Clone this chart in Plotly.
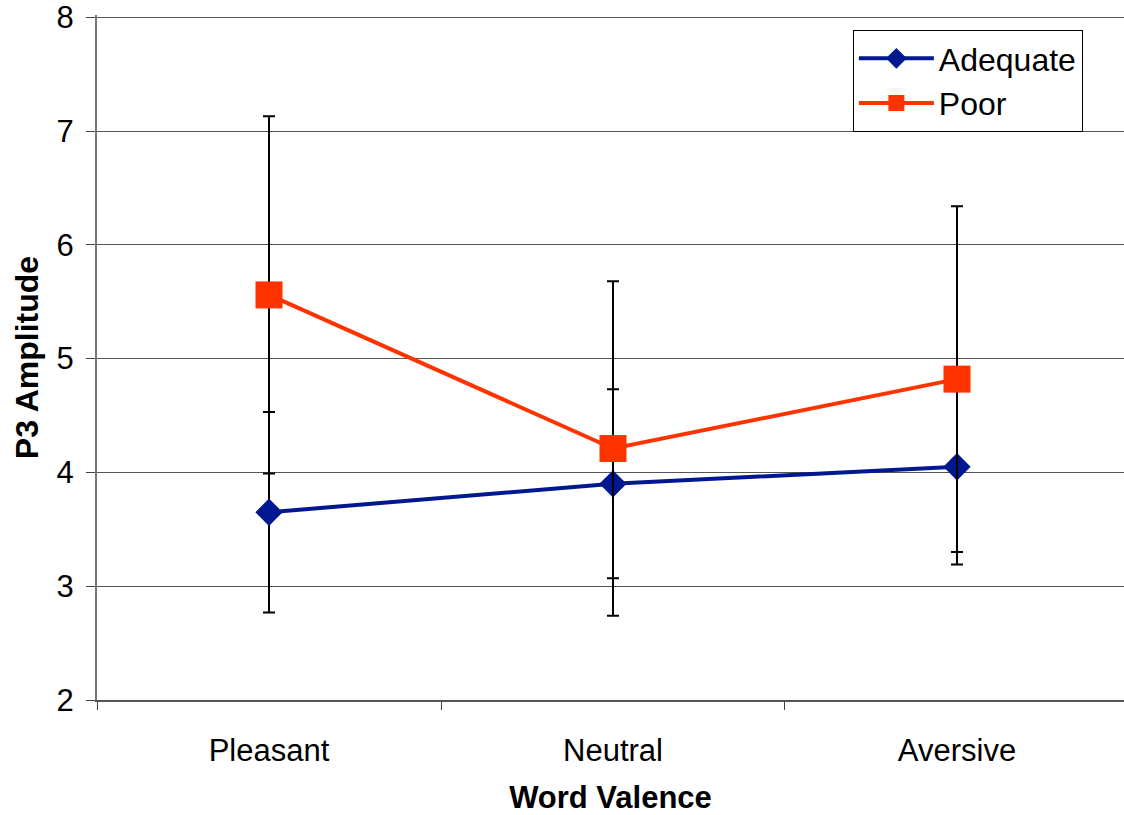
import plotly.graph_objects as go

categories = ["Pleasant", "Neutral", "Aversive"]
adequate_mean = [3.65, 3.90, 4.05]
adequate_err = [0.88, 0.83, 0.86]
poor_mean = [5.56, 4.21, 4.82]
poor_err = [1.57, 1.47, 1.52]
y_ticks = [2, 3, 4, 5, 6, 7, 8]

FONT = "Liberation Sans, Arial, sans-serif"

fig = go.Figure()
fig.add_trace(go.Scatter(
    x=categories, y=adequate_mean, name="Adequate", mode="lines+markers",
    line=dict(color="#00188F", width=4),
    marker=dict(symbol="diamond", size=21, color="#00188F"),
    error_y=dict(type="data", array=adequate_err, visible=True,
                 color="black", thickness=2, width=6),
    legendgroup="a",
))
fig.add_trace(go.Scatter(
    x=categories, y=poor_mean, name="Poor", mode="lines+markers",
    line=dict(color="#FF3300", width=4),
    marker=dict(symbol="square", size=27, color="#FF3300"),
    error_y=dict(type="data", array=poor_err, visible=True,
                 color="black", thickness=2, width=6),
    legendgroup="b",
))

fig.update_layout(
    width=1124, height=815,
    margin=dict(l=97, r=0, t=15, b=115),
    paper_bgcolor="white", plot_bgcolor="white",
    font=dict(family=FONT, size=30, color="black"),
    legend=dict(
        x=0.736, y=0.978, xanchor="left", yanchor="top",
        bgcolor="white", bordercolor="black", borderwidth=1,
        font=dict(family=FONT, size=32, color="black"),
        tracegroupgap=0, itemwidth=75,
        entrywidth=195, entrywidthmode="pixels",
    ),
    showlegend=True,
)
fig.update_xaxes(
    type="category", range=[-0.5, 2.4855],
    tickson="boundaries", ticks="outside", ticklen=8, tickcolor="#444",
    showline=True, linecolor="#555", linewidth=2,
    showgrid=False, zeroline=False,
    tickfont=dict(family=FONT, size=31),
    ticklabelstandoff=22,
    title=dict(text="<b>Word Valence</b>", font=dict(family=FONT, size=31), standoff=20),
)
fig.update_yaxes(
    range=[2, 8.02], tickvals=y_ticks, ticks="outside", ticklen=9, tickcolor="#444",
    showline=True, linecolor="#777", linewidth=2,
    showgrid=True, gridcolor="#555", gridwidth=1, zeroline=False,
    tickfont=dict(family=FONT, size=31),
    ticklabelstandoff=6, ticklabeloverflow="allow",
    title=dict(text="<b>P3 Amplitude</b>", font=dict(family=FONT, size=32), standoff=8),
)

fig.write_html("out.html")
